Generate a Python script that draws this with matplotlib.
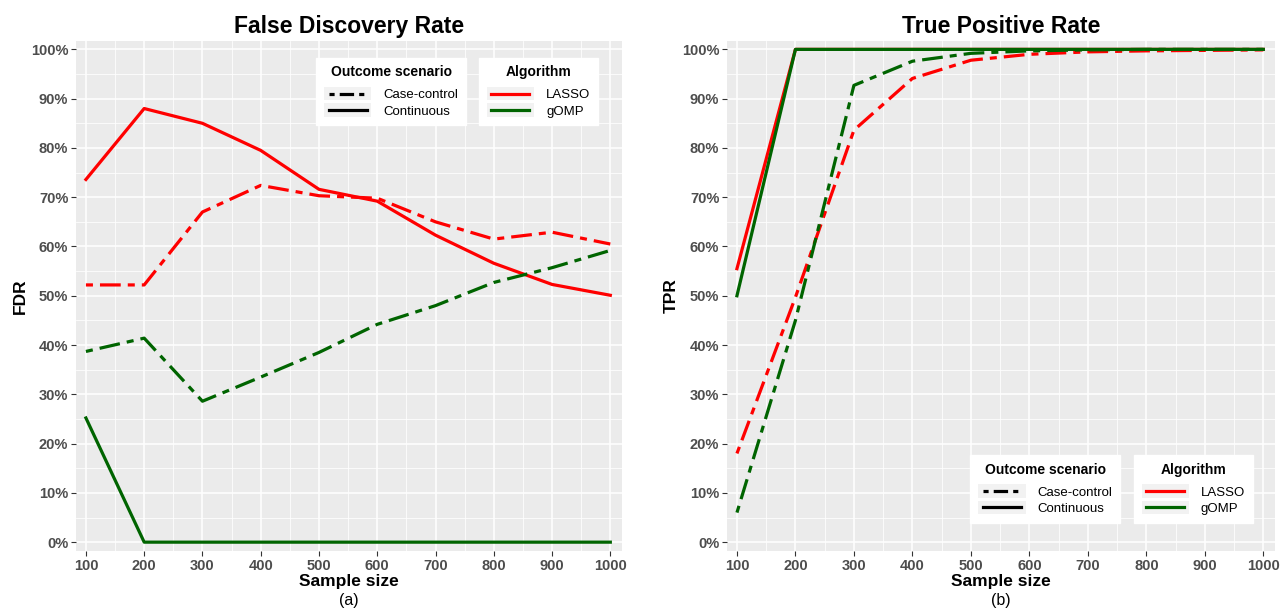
import matplotlib.pyplot as plt
from matplotlib.lines import Line2D
from matplotlib.patches import Rectangle
from matplotlib.legend_handler import HandlerBase
from matplotlib.ticker import FuncFormatter, MultipleLocator

plt.rcParams['font.family'] = ['Liberation Sans', 'DejaVu Sans']

sample_size = [100, 200, 300, 400, 500, 600, 700, 800, 900, 1000]

# False discovery rate (%)
fdr_lasso_cont = [73.6, 88.0, 85.0, 79.5, 71.6, 69.2, 62.3, 56.6, 52.3, 50.1]
fdr_lasso_cc = [52.2, 52.2, 67.0, 72.4, 70.3, 69.8, 65.0, 61.5, 62.9, 60.5]
fdr_gomp_cont = [25.2, 0, 0, 0, 0, 0, 0, 0, 0, 0]
fdr_gomp_cc = [38.7, 41.4, 28.6, 33.5, 38.5, 44.2, 48.0, 52.7, 55.7, 59.2]

# True positive rate (%)
tpr_lasso_cont = [55.5, 100, 100, 100, 100, 100, 100, 100, 100, 100]
tpr_lasso_cc = [18.0, 49.7, 83.6, 94.1, 97.8, 99.0, 99.5, 99.7, 99.8, 99.9]
tpr_gomp_cont = [50.0, 100, 100, 100, 100, 100, 100, 100, 100, 100]
tpr_gomp_cc = [6.0, 45.0, 92.7, 97.6, 99.2, 99.7, 99.9, 100, 100, 100]

RED = '#FF0000'
GREEN = '#006400'
DOTDASH = (0, (2.2, 2.2, 6.5, 2.2))
KEY_DASH = (0, (1.6, 1.6, 4.5, 1.6))
LW = 2.3


class KeyWithBg(HandlerBase):
    # ggplot style legend key: light grey box with the line inset
    def create_artists(self, legend, orig_handle, xdescent, ydescent,
                       width, height, fontsize, trans):
        bg = Rectangle((-xdescent, -ydescent - 1.5), width, height + 3,
                       facecolor='#F2F2F2', edgecolor='none', transform=trans)
        y = -ydescent + height / 2
        ls = orig_handle.get_linestyle()
        ln = Line2D([-xdescent + 0.1 * width, -xdescent + 0.9 * width], [y, y],
                    color=orig_handle.get_color(), lw=orig_handle.get_linewidth(),
                    transform=trans)
        if ls not in ('-', 'solid'):
            ln.set_linestyle(KEY_DASH)
        return [bg, ln]


def style_panel(ax, title, ylabel, tag):
    ax.set_facecolor('#EBEBEB')
    for s in ax.spines.values():
        s.set_visible(False)
    ax.set_xlim(83, 1020)
    ax.set_ylim(-1.8, 101.7)
    ax.xaxis.set_major_locator(MultipleLocator(100))
    ax.xaxis.set_minor_locator(MultipleLocator(50))
    ax.yaxis.set_major_locator(MultipleLocator(10))
    ax.yaxis.set_minor_locator(MultipleLocator(5))
    ax.yaxis.set_major_formatter(FuncFormatter(lambda v, p: f'{v:.0f}%'))
    ax.grid(which='major', color='white', lw=1.1)
    ax.grid(which='minor', color='white', lw=0.55)
    ax.set_axisbelow(True)
    ax.tick_params(which='major', length=3.5, color='#333333', labelsize=10.5,
                   labelcolor='#4D4D4D', pad=2)
    ax.tick_params(which='minor', length=0)
    for lab in ax.get_xticklabels() + ax.get_yticklabels():
        lab.set_fontweight('bold')
    ax.set_title(title, fontsize=16.5, fontweight='bold', pad=6)
    ax.set_ylabel(ylabel, fontsize=12.5, fontweight='bold', labelpad=2)
    ax.set_xlabel('Sample size', fontsize=12.5, fontweight='bold', labelpad=1)
    ax.text(0.5, -0.083, tag, transform=ax.transAxes, ha='center', va='top',
            fontsize=11.5)


def add_legends(ax, loc1, loc2):
    h1 = [Line2D([], [], color='black', lw=LW, linestyle=DOTDASH),
          Line2D([], [], color='black', lw=LW)]
    h2 = [Line2D([], [], color=RED, lw=LW), Line2D([], [], color=GREEN, lw=LW)]
    kw = dict(frameon=True, fancybox=False, edgecolor='white', framealpha=1,
              fontsize=9.5, handlelength=3.6, handletextpad=0.9,
              labelspacing=0.3, borderpad=0.6,
              handler_map={Line2D: KeyWithBg()},
              title_fontproperties={'weight': 'bold', 'size': 10})
    lg1 = ax.legend(h1, ['Case-control', 'Continuous'], title='Outcome scenario',
                    loc='center', bbox_to_anchor=loc1, **kw)
    lg1._legend_box.sep = 7
    ax.add_artist(lg1)
    lg2 = ax.legend(h2, ['LASSO', 'gOMP'], title='Algorithm',
                    loc='center', bbox_to_anchor=loc2, **kw)
    lg2._legend_box.sep = 7
    return lg1, lg2


fig = plt.figure(figsize=(12.84, 6.13), dpi=100)
ax1 = fig.add_axes([0.0592, 0.1011, 0.4252, 0.832])
ax2 = fig.add_axes([0.5662, 0.1011, 0.4268, 0.832])

ax1.plot(sample_size, fdr_lasso_cont, color=RED, lw=LW)
ax1.plot(sample_size, fdr_lasso_cc, color=RED, lw=LW, linestyle=DOTDASH)
ax1.plot(sample_size, fdr_gomp_cont, color=GREEN, lw=LW)
ax1.plot(sample_size, fdr_gomp_cc, color=GREEN, lw=LW, linestyle=DOTDASH)
style_panel(ax1, 'False Discovery Rate', 'FDR', '(a)')
add_legends(ax1, (0.577, 0.901), (0.847, 0.901))

ax2.plot(sample_size, tpr_lasso_cont, color=RED, lw=LW)
ax2.plot(sample_size, tpr_lasso_cc, color=RED, lw=LW, linestyle=DOTDASH)
ax2.plot(sample_size, tpr_gomp_cont, color=GREEN, lw=LW)
ax2.plot(sample_size, tpr_gomp_cc, color=GREEN, lw=LW, linestyle=DOTDASH)
style_panel(ax2, 'True Positive Rate', 'TPR', '(b)')
add_legends(ax2, (0.581, 0.122), (0.851, 0.122))

fig.savefig('out.png', dpi=100)
